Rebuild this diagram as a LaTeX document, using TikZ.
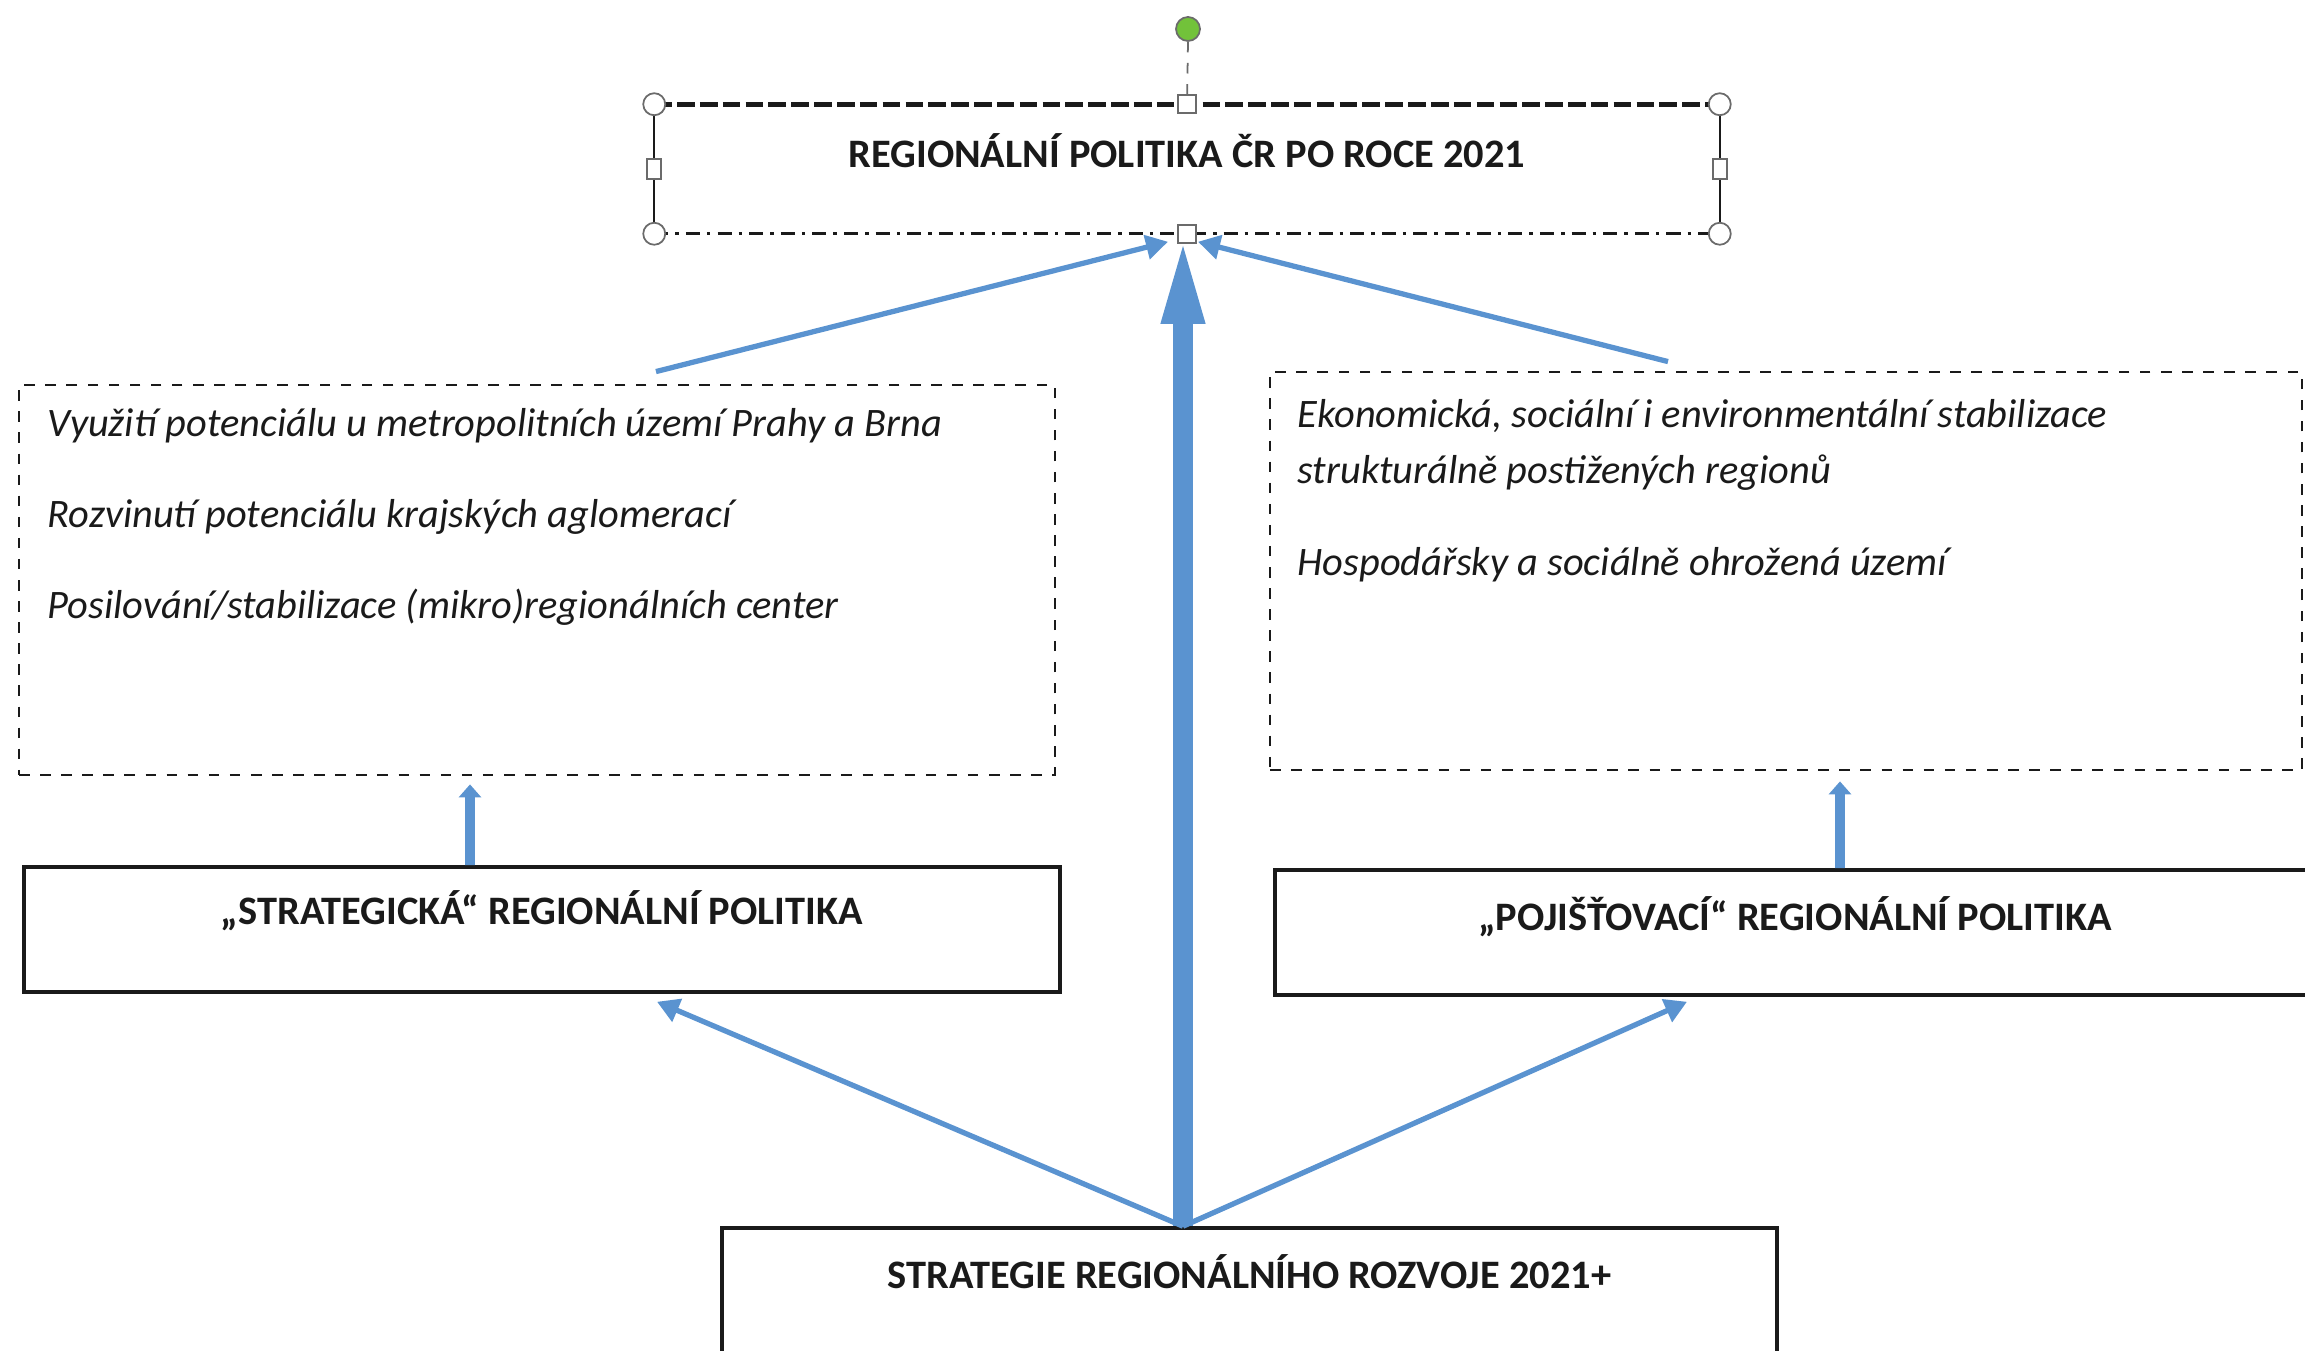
\documentclass[tikz,border=0pt]{standalone}
\usepackage{fontspec}
\setmainfont{Carlito}
\usetikzlibrary{positioning,arrows.meta}
\definecolor{ink}{HTML}{1A1A1A}
\definecolor{arrblue}{HTML}{5A93D0}
\definecolor{gripgray}{HTML}{6B6B6B}
\definecolor{rotgreen}{HTML}{72C23A}

\begin{document}
\begin{tikzpicture}[
  box/.style={draw=ink, line width=1pt, fill=white, inner sep=0pt, text=ink,
              text height=6mm, text depth=6.5mm,
              font=\fontsize{11.5}{14}\selectfont\bfseries},
  note/.style={draw=ink, dashed, line width=0.8pt, inner sep=0pt},
  item/.style={anchor=base west, inner sep=0pt, text=ink,
               font=\fontsize{11.5}{14}\selectfont\itshape},
  arr/.style={-{Triangle[length=2.2mm,width=2.4mm]}, draw=arrblue, line width=1.5pt},
  bigarr/.style={-{Triangle[length=9mm,width=3.8mm]}, draw=arrblue, line width=5.5pt},
  upar/.style={-{Triangle[length=1.3mm,width=2.2mm]}, draw=arrblue, line width=2.8pt},
  grip/.style={draw=gripgray, fill=white, line width=0.5pt, inner sep=0pt},
]
\useasboundingbox (0,0) rectangle (23.05,13.5);

% boxes
\node[box, draw=none, minimum width=10.62cm, text height=6.2mm, text depth=6.4mm]
  (top) at (11.87,11.81) {REGIONÁLNÍ POLITIKA ČR PO ROCE 2021};
\node[note, minimum width=10.36cm, minimum height=3.9cm] (lnote) at (5.37,7.70) {};
\node[note, minimum width=10.32cm, minimum height=3.98cm] (rnote) at (17.86,7.79) {};
\node[box, minimum width=10.36cm, text height=5.7mm, text depth=6.8mm]
  (strat) at (5.42,4.205) {„STRATEGICKÁ“ REGIONÁLNÍ POLITIKA};
\node[box, minimum width=10.4cm, text height=6.1mm, text depth=6.4mm]
  (poji) at (17.95,4.175) {„POJIŠŤOVACÍ“ REGIONÁLNÍ POLITIKA};
\node[box, minimum width=10.55cm, text height=6mm, text depth=7.2mm]
  (srr) at (12.495,0.56) {STRATEGIE REGIONÁLNÍHO ROZVOJE 2021+};

% items
\node[item] (l1) at (0.47,9.13) {Využití potenciálu u metropolitních území Prahy a Brna};
\node[item] (l2) at (0.47,8.22) {Rozvinutí potenciálu krajských aglomerací};
\node[item] (l3) at (0.47,7.31) {Posilování/stabilizace (mikro)regionálních center};
\node[item] (r1) at (12.97,9.22) {Ekonomická, sociální i environmentální stabilizace};
\node[item] (r2) at (12.97,8.66) {strukturálně postižených regionů};
\node[item] (r3) at (12.97,7.74) {Hospodářsky a sociálně ohrožená území};

% frame of the selected box
\draw[ink, line width=1.3pt, dash pattern=on 5pt off 1.5pt] (top.north west) -- (top.north east);
\draw[ink, line width=0.8pt, dash pattern=on 4pt off 2pt on 1pt off 2pt] (top.south west) -- (top.south east);
\draw[ink, line width=0.6pt] (top.north west) -- (top.south west) (top.north east) -- (top.south east);

% arrows
\coordinate (hub) at ([xshift=-6.65mm]srr.north);
\draw[bigarr] (hub) -- (hub |- top.south);
\draw[arr] (hub) -- ([xshift=11.5mm,yshift=-0.8mm]strat.south);
\draw[arr] (hub) -- ([xshift=-10.8mm,yshift=-0.5mm]poji.south);
\draw[arr] ([xshift=11.9mm,yshift=1.2mm]lnote.north) -- ([xshift=-1.9mm,yshift=-0.8mm]top.south);
\draw[arr] ([xshift=-11.8mm,yshift=0.9mm]rnote.north) -- ([xshift=1.1mm,yshift=-0.8mm]top.south);
\draw[upar] ([xshift=-7.2mm]strat.north) -- ([xshift=-6.7mm,yshift=-0.8mm]lnote.south);
\draw[upar] ([xshift=4.5mm]poji.north) -- ([xshift=5.4mm,yshift=-1mm]rnote.south);

% handles
\node[grip, circle, fill=rotgreen, minimum size=2.4mm] (rot) at (11.88,13.21) {};
\draw[gripgray, line width=0.5pt, dashed] (rot.south) -- (top.north);
\node[grip, circle, minimum size=2.2mm] (cnw) at (top.north west) {};
\node[grip, circle, minimum size=2.2mm] (cne) at (top.north east) {};
\node[grip, circle, minimum size=2.2mm] (csw) at (top.south west) {};
\node[grip, circle, minimum size=2.2mm] (cse) at (top.south east) {};
\node[grip, minimum width=1.8mm, minimum height=1.8mm] (mn) at (top.north) {};
\node[grip, minimum width=1.8mm, minimum height=1.8mm] (ms) at (top.south) {};
\node[grip, minimum width=1.4mm, minimum height=2mm] (mw) at (top.west) {};
\node[grip, minimum width=1.4mm, minimum height=2mm] (me) at (top.east) {};
\end{tikzpicture}
\end{document}
